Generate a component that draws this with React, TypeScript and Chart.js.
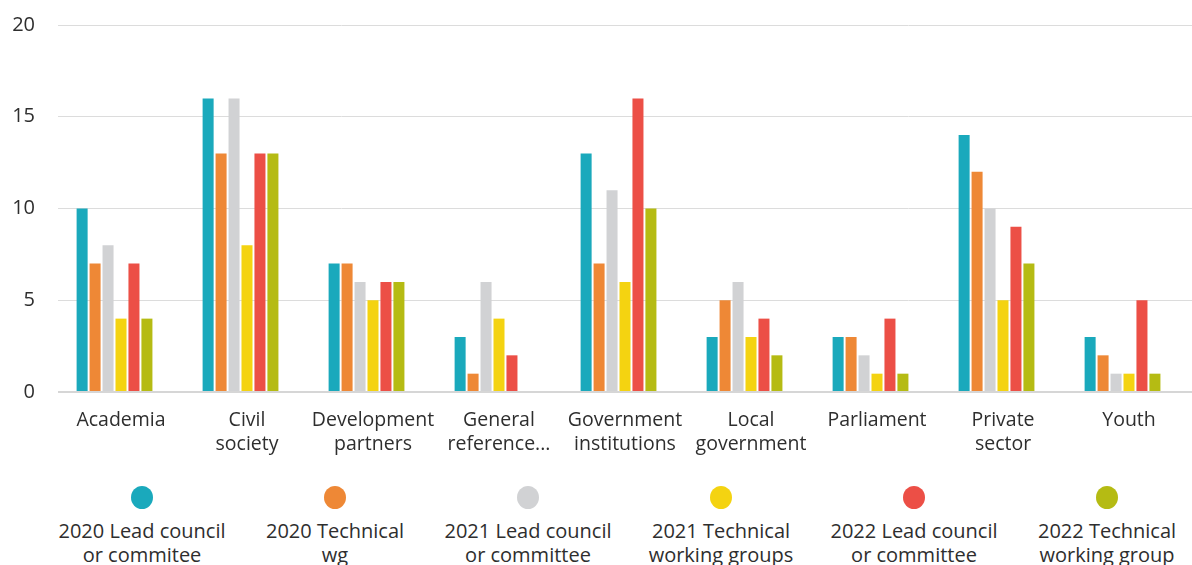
import React, { useEffect, useRef } from "react";
import { Chart, registerables } from "chart.js";

Chart.register(...registerables);

const categories: string[][] = [
  ["Academia"],
  ["Civil", "society"],
  ["Development", "partners"],
  ["General", "reference..."],
  ["Government", "institutions"],
  ["Local", "government"],
  ["Parliament"],
  ["Private", "sector"],
  ["Youth"],
];

const seriesNames: string[][] = [
  ["2020 Lead council", "or commitee"],
  ["2020 Technical", "wg"],
  ["2021 Lead council", "or committee"],
  ["2021 Technical", "working groups"],
  ["2022 Lead council", "or committee"],
  ["2022 Technical", "working group"],
];

const seriesColors = ["#1aa9bc", "#ee8836", "#d1d2d4", "#f4d311", "#ec4f46", "#b5bb13"];

const lead2020 = [10, 16, 7, 3, 13, 3, 3, 14, 3];
const tech2020 = [7, 13, 7, 1, 7, 5, 3, 12, 2];
const lead2021 = [8, 16, 6, 6, 11, 6, 2, 10, 1];
const tech2021 = [4, 8, 5, 4, 6, 3, 1, 5, 1];
const lead2022 = [7, 13, 6, 2, 16, 4, 4, 9, 5];
const tech2022 = [4, 13, 6, 0, 10, 2, 1, 7, 1];

const seriesValues = [lead2020, tech2020, lead2021, tech2021, lead2022, tech2022];

const yTicks = [0, 5, 10, 15, 20];

const FONT = "'Open Sans', 'DejaVu Sans', sans-serif";
const TEXT = "#2e2e2e";

export default function App() {
  const ref = useRef<HTMLCanvasElement | null>(null);

  useEffect(() => {
    document.body.style.margin = "0";
    const canvas = ref.current;
    if (!canvas) return;
    const datasets: any[] = seriesValues.map((vals, i) => ({
      label: seriesNames[i].join(" "),
      data: vals,
      backgroundColor: seriesColors[i],
      borderWidth: 0,
      categoryPercentage: 0.72,
      barPercentage: 0.85,
    }));
    // empty slot that the source chart leaves after each group
    datasets.push({
      label: "",
      data: categories.map(() => null),
      backgroundColor: "rgba(0,0,0,0)",
      categoryPercentage: 0.72,
      barPercentage: 0.85,
    });
    const chart = new Chart(canvas, {
      type: "bar",
      data: { labels: categories, datasets },
      options: {
        animation: false,
        responsive: false,
        maintainAspectRatio: false,
        layout: { padding: { top: 25, right: 0, bottom: 2, left: 0 } },
        plugins: { legend: { display: false }, tooltip: { enabled: false } },
        scales: {
          x: {
            grid: { display: false, drawTicks: false },
            border: { display: false },
            ticks: {
              color: TEXT,
              font: { family: FONT, size: 19.5, lineHeight: 1.23 },
              padding: 16,
              maxRotation: 0,
              autoSkip: false,
            },
          },
          y: {
            min: 0,
            max: 20,
            afterBuildTicks: (scale: any) => {
              scale.ticks = yTicks.map((v) => ({ value: v }));
            },
            afterFit: (scale: any) => {
              scale.width = 58;
              scale.paddingTop = 0;
              scale.paddingBottom = 0;
            },
            grid: {
              color: (ctx: any) => (ctx.tick && ctx.tick.value === 0 ? "#d6d6d6" : "#dcdcdc"),
              lineWidth: (ctx: any) => (ctx.tick && ctx.tick.value === 0 ? 2 : 1),
              drawTicks: false,
            },
            border: { display: false },
            ticks: {
              color: TEXT,
              font: { family: FONT, size: 20 },
              padding: 23,
            },
          },
        },
      },
    });
    return () => chart.destroy();
  }, []);

  const centers = seriesNames.map((_, i) => 142 + 193 * i);

  return (
    <div style={{ position: "relative", width: 1192, height: 565, overflow: "hidden", background: "#fff" }}>
      <canvas ref={ref} width={1192} height={474} style={{ position: "absolute", left: 0, top: 0 }} />
      {seriesNames.map((lines, i) => (
        <div
          key={i}
          style={{
            position: "absolute",
            left: centers[i] - 100,
            top: 486,
            width: 200,
            textAlign: "center",
            fontFamily: FONT,
            fontSize: 20,
            lineHeight: "24px",
            color: TEXT,
          }}
        >
          <div
            style={{
              width: 22,
              height: 23,
              borderRadius: "50%",
              background: seriesColors[i],
              margin: "0 auto 10px auto",
            }}
          />
          {lines.map((l, j) => (
            <div key={j}>{l}</div>
          ))}
        </div>
      ))}
    </div>
  );
}
